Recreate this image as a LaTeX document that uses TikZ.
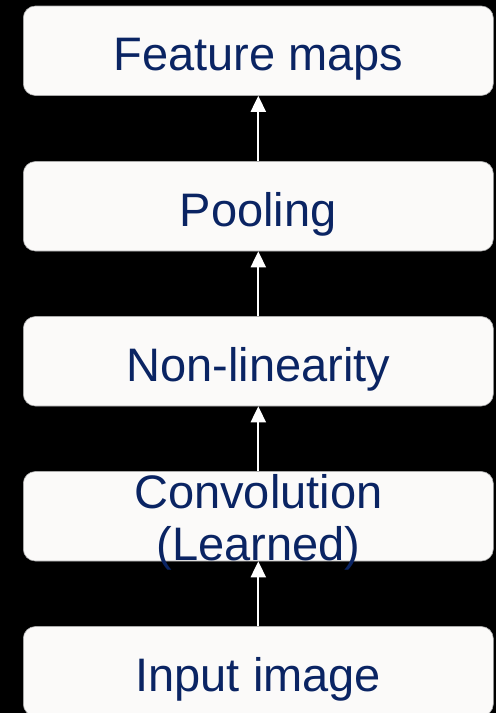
\documentclass[tikz,border=0pt]{standalone}
\usepackage{fontspec}
\setmainfont{Liberation Sans}
\usetikzlibrary{arrows.meta}
\definecolor{boxfill}{RGB}{251,250,249}
\definecolor{boxline}{RGB}{170,170,170}
\definecolor{labelblue}{RGB}{10,36,99}
\tikzset{
  stage/.style={draw=boxline, line width=0.6pt, fill=boxfill, rounded corners=12pt,
    minimum width=470pt, minimum height=89.5pt, inner sep=0pt},
  stagetext/.style={anchor=base, text=labelblue, inner sep=0pt,
    font=\fontsize{47}{52}\selectfont},
  flow/.style={draw=white, line width=2pt, -{Triangle[width=15pt,length=16pt]}}
}
\begin{document}
\begin{tikzpicture}[x=1pt,y=-1pt]
  \fill[black] (0,0) rectangle (496,713);
  \useasboundingbox (0,0) rectangle (496,713);

  % stage boxes, top to bottom
  \node[stage] (feat)   at (258.3,50.75)  {};
  \node[stage] (pool)   at (258.3,206.25) {};
  \node[stage] (nonlin) at (258.3,361.25) {};
  \node[stage] (conv)   at (258.3,516.25) {};
  \node[stage] (input)  at (258.3,671.25) {};

  % stage labels
  \node[stagetext] (featT)   at (258.3,70.7)  {Feature maps};
  \node[stagetext] (poolT)   at (258.3,226.2) {Pooling};
  \node[stagetext] (nonlinT) at (258.3,381.2) {Non-linearity};
  \node[stagetext] (convT1)  at (258.3,508)   {Convolution};
  \node[stagetext] (convT2)  at (258.3,560)   {(Learned)};
  \node[stagetext] (inputT)  at (258.3,691)   {Input image};

  % data flow upwards
  \draw[flow] (input.north)  -- (conv.south);
  \draw[flow] (conv.north)   -- (nonlin.south);
  \draw[flow] (nonlin.north) -- (pool.south);
  \draw[flow] (pool.north)   -- (feat.south);
\end{tikzpicture}
\end{document}
